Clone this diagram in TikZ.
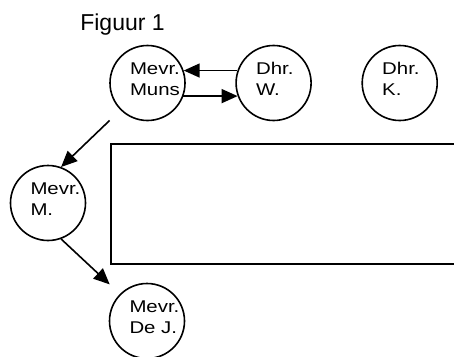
\documentclass[tikz,border=0pt]{standalone}
\usepackage{fontspec}
\setmainfont{Liberation Sans}
\newfontfamily\namefont[FakeStretch=1.2]{Liberation Sans}
\usetikzlibrary{positioning, arrows.meta}
\tikzset{>={Triangle[length=16pt,width=14pt]}}
\tikzset{person/.style={draw, circle, line width=1.6pt, minimum size=75pt,
    inner sep=0pt, text width=35pt, align=left, text height=12.4pt,
    text depth=29.6pt, font=\namefont\fontsize{17}{20.8}\selectfont}}
\tikzset{link/.style={->, line width=1.6pt}}

\begin{document}
\begin{tikzpicture}[x=1pt, y=-1pt]
    \useasboundingbox (0,0) rectangle (454,356);
    \node[font=\fontsize{23}{27}\selectfont] (title) at (122.5,25) {Figuur 1};

    \node[person] (muns) at (147.5,83) {Mevr.\\Muns};
    \node[person, right=49.5pt of muns] (w) {Dhr.\\W.};
    \node[person, right=49.5pt of w] (k) {Dhr.\\K.};
    \node[person] (m) at (48,203) {Mevr.\\M.};
    \node[person] (dej) at (147,321) {Mevr.\\De~J.};

    \node[draw, line width=2pt, anchor=north west, minimum width=380pt,
      minimum height=120pt] (box) at (110,143) {};

    \draw[link] (w.161) to (muns.19);
    \draw[link] (muns.-20) to (w.200);
    \draw[link, shorten <=15pt] (muns.225) to (m.70);
    \draw[link, shorten >=14pt] (m.-70) to (dej.135);
  \end{tikzpicture}
\end{document}
